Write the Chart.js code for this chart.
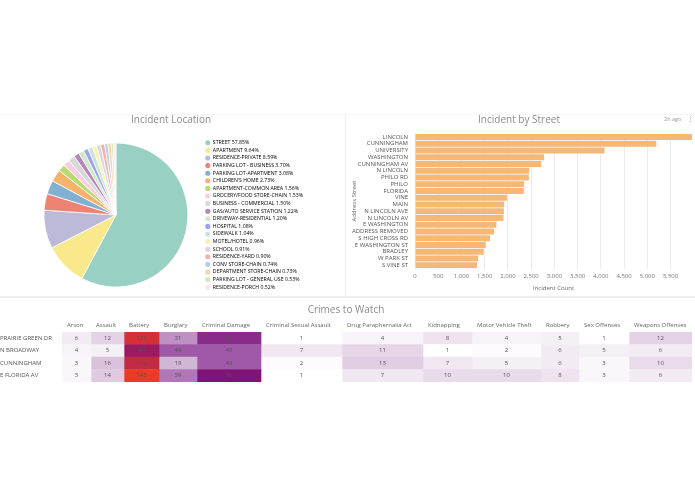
<!DOCTYPE html>
<html>
<head>
<meta charset="utf-8">
<script src="https://cdn.jsdelivr.net/npm/chart.js@4.4.1/dist/chart.umd.min.js"></script>
<style>
  body { margin: 0; background: #fff; font-family: "Open Sans", sans-serif; }
  #page { position: relative; width: 695px; height: 494px; overflow: hidden; }
  canvas { position: absolute; }
  .rule { position: absolute; background: #eeeeee; }
  .meta { position: absolute; font-size: 5.5px; color: #9a9a9a; }
</style>
</head>
<body>
<div id="page">
  <div class="rule" style="left:0;top:114px;width:695px;height:1px;background:#f5f5f5"></div>
  <div class="rule" style="left:345px;top:115px;width:1px;height:181px"></div>
  <div class="rule" style="left:0;top:296px;width:695px;height:2px"></div>
  <canvas id="pie" width="344" height="200" style="left:0;top:100px"></canvas>
  <canvas id="bars" width="349" height="196" style="left:346px;top:100px"></canvas>
  <span class="meta" style="left:664px;top:115px">2h ago</span>
  <span class="meta" style="left:687px;top:114px;font-size:7px">&#8942;</span>
  <canvas id="table" width="695" height="100" style="left:0;top:298px"></canvas>
</div>
<script>
// incident location shares (%)
const locationLabels = [
  'STREET', 'APARTMENT', 'RESIDENCE-PRIVATE', 'PARKING LOT - BUSINESS',
  'PARKING LOT-APARTMENT', "CHILDREN'S HOME", 'APARTMENT-COMMON AREA',
  'GROCERY/FOOD STORE-CHAIN', 'BUSINESS - COMMERCIAL', 'GAS/AUTO SERVICE STATION',
  'DRIVEWAY-RESIDENTIAL', 'HOSPITAL', 'SIDEWALK', 'MOTEL/HOTEL', 'SCHOOL',
  'RESIDENCE-YARD', 'CONV STORE-CHAIN', 'DEPARTMENT STORE-CHAIN',
  'PARKING LOT - GENERAL USE', 'RESIDENCE-PORCH'
];
const locationShares = [57.85, 9.64, 8.59, 3.70, 3.08, 2.73, 1.56, 1.53, 1.50, 1.22,
  1.20, 1.08, 1.04, 0.96, 0.91, 0.90, 0.74, 0.73, 0.53, 0.52];
const locationColors = ['#98d1c4', '#f9e98b', '#bdb9d9', '#ee8373', '#82b0d2', '#f4b26c',
  '#b6db70', '#f8cee2', '#d8d8d8', '#b684ba', '#cde9c6', '#9fa3ef', '#c6e4dd', '#fbf2ae',
  '#d7d5eb', '#f3b3a8', '#b4d0e7', '#f8d3a9', '#d6eab3', '#f9e3ef'];

// incidents by street
const streetNames = ['LINCOLN', 'CUNNINGHAM', 'UNIVERSITY', 'WASHINGTON', 'CUNNINGHAM AV',
  'N LINCOLN', 'PHILO RD', 'PHILO', 'FLORIDA', 'VINE', 'MAIN', 'N LINCOLN AVE',
  'N LINCOLN AV', 'E WASHINGTON', 'ADDRESS REMOVED', 'S HIGH CROSS RD',
  'E WASHINGTON ST', 'BRADLEY', 'W PARK ST', 'S VINE ST'];
const streetCounts = [5962, 5194, 4080, 2780, 2716, 2457, 2450, 2349, 2342, 1983,
  1918, 1912, 1904, 1753, 1703, 1616, 1523, 1480, 1358, 1336];

// crimes to watch
const crimeTypes = ['Arson', 'Assault', 'Battery', 'Burglary', 'Criminal Damage',
  'Criminal Sexual Assault', 'Drug Paraphernalia Act', 'Kidnapping',
  'Motor Vehicle Theft', 'Robbery', 'Sex Offenses', 'Weapons Offenses'];
const watchStreets = ['PRAIRIE GREEN DR', 'N BROADWAY', 'CUNNINGHAM', 'E FLORIDA AV'];
const prairieGreen = [6, 12, 127, 31, 66, 1, 4, 8, 4, 5, 1, 12];
const broadway = [4, 5, 90, 49, 49, 7, 11, 1, 2, 6, 5, 6];
const cunningham = [3, 16, 116, 19, 49, 2, 13, 7, 5, 6, 3, 10];
const floridaAv = [3, 14, 143, 39, 76, 1, 7, 10, 10, 8, 3, 6];
const watchRows = [prairieGreen, broadway, cunningham, floridaAv];

// table column widths (layout only)
const colWidths = [29, 33, 35, 38, 64, 81, 81, 49, 69, 38, 50, 63];

Chart.defaults.font.family = '"Open Sans", sans-serif';
Chart.defaults.animation = false;

const titleFont = { size: 10, weight: 'normal' };

new Chart(document.getElementById('pie'), {
  type: 'pie',
  data: {
    labels: locationLabels,
    datasets: [{
      data: locationShares,
      backgroundColor: locationColors,
      borderColor: '#ffffff',
      borderWidth: 0.8,
      radius: 72,
    }],
  },
  options: {
    responsive: false,
    layout: { padding: { left: 29, right: 31 } },
    plugins: {
      title: {
        display: true, text: 'Incident Location', color: '#8c8c8c',
        font: titleFont, padding: { top: 14, bottom: 4 },
      },
      legend: {
        position: 'right',
        fullSize: false,
        labels: {
          usePointStyle: true, boxWidth: 5, boxHeight: 3.6, padding: 2.4,
          font: { size: 5.2 }, color: '#555',
          generateLabels: () => locationLabels.map((name, i) => ({
            text: name + ' ' + locationShares[i].toFixed(2) + '%',
            fillStyle: locationColors[i],
            strokeStyle: locationColors[i],
            lineWidth: 0,
            pointStyle: 'circle',
            hidden: false,
            index: i,
          })),
        },
      },
      tooltip: { enabled: false },
    },
  },
});

new Chart(document.getElementById('bars'), {
  type: 'bar',
  data: {
    labels: streetNames,
    datasets: [{
      data: streetCounts,
      backgroundColor: '#f6b877',
      barPercentage: 0.87,
      categoryPercentage: 1,
    }],
  },
  options: {
    indexAxis: 'y',
    responsive: false,
    layout: { padding: { right: 3, bottom: 3 } },
    scales: {
      x: {
        min: 0,
        bounds: 'data',
        afterBuildTicks: s => { s.ticks = s.ticks.filter(t => t.value % 500 === 0); },
        ticks: { stepSize: 500, font: { size: 6 }, color: '#777', padding: 4 },
        grid: { color: '#ebebeb', drawTicks: false },
        border: { display: false },
        title: { display: true, text: 'Incident Count', font: { size: 6 }, color: '#666', padding: { top: 1, bottom: 1 } },
      },
      y: {
        afterFit: s => { s.width = 69; },
        ticks: { font: { size: 6 }, color: '#555', autoSkip: false, padding: 7 },
        grid: { display: false, drawTicks: false },
        border: { display: false },
        title: { display: true, text: 'Address Street', font: { size: 6 }, color: '#666', padding: { top: 5, bottom: 2 } },
      },
    },
    plugins: {
      legend: { display: false },
      tooltip: { enabled: false },
      title: {
        display: true, text: 'Incident by Street', color: '#8c8c8c',
        font: titleFont, padding: { top: 14, bottom: 7.6 },
      },
    },
  },
});

// white -> purple -> red heat scale for the table cells
const heatStops = [[1, [255, 255, 255]], [20, [208, 178, 211]], [49, [160, 88, 168]],
  [75, [125, 20, 120]], [90, [155, 26, 96]], [143, [236, 59, 36]]];
function heat(v) {
  if (v <= heatStops[0][0]) return 'rgb(255,255,255)';
  for (let k = 1; k < heatStops.length; k++) {
    const [v1, c1] = heatStops[k];
    const [v0, c0] = heatStops[k - 1];
    if (v <= v1) {
      const t = (v - v0) / (v1 - v0);
      const c = c0.map((a, n) => Math.round(a + (c1[n] - a) * t));
      return `rgb(${c.join(',')})`;
    }
  }
  const c = heatStops[heatStops.length - 1][1];
  return `rgb(${c.join(',')})`;
}

const colStarts = colWidths.map((w, j) => colWidths.slice(0, j).reduce((a, b) => a + b, 0));
const tableWidth = colWidths.reduce((a, b) => a + b, 0);

const cellText = {
  id: 'cellText',
  afterDatasetsDraw(chart) {
    const ctx = chart.ctx;
    ctx.save();
    ctx.font = '6px "Open Sans", sans-serif';
    ctx.fillStyle = '#555';
    ctx.textAlign = 'center';
    ctx.textBaseline = 'middle';
    chart.data.datasets.forEach((ds, j) => {
      chart.getDatasetMeta(j).data.forEach((bar, i) => {
        const { x, y, base } = bar.getProps(['x', 'y', 'base'], true);
        ctx.fillText(String(watchRows[i][j]), (x + base) / 2, y);
      });
    });
    ctx.restore();
  },
};

new Chart(document.getElementById('table'), {
  type: 'bar',
  data: {
    labels: watchStreets,
    datasets: crimeTypes.map((name, j) => ({
      label: name,
      data: watchStreets.map(() => colWidths[j]),
      backgroundColor: ctx => heat(watchRows[ctx.dataIndex][j]),
      barPercentage: 1,
      categoryPercentage: 1,
      borderWidth: 0,
    })),
  },
  options: {
    indexAxis: 'y',
    responsive: false,
    layout: { padding: { bottom: 16, right: 3 } },
    scales: {
      x: {
        position: 'top',
        stacked: true,
        min: 0,
        max: tableWidth,
        afterFit: s => { s.height = 16; },
        afterBuildTicks: s => { s.ticks = colStarts.map(v => ({ value: v + 5 })); },
        ticks: {
          autoSkip: false, maxRotation: 0, align: 'start', padding: 3,
          font: { size: 6 }, color: '#666',
          callback: (v, i) => crimeTypes[i],
        },
        grid: { display: false, drawTicks: false },
        border: { display: false },
      },
      y: {
        stacked: true,
        afterFit: s => { s.width = 62; },
        ticks: { crossAlign: 'far', padding: 0, font: { size: 6 }, color: '#555' },
        grid: { display: false, drawTicks: false },
        border: { display: false },
      },
    },
    plugins: {
      legend: { display: false },
      tooltip: { enabled: false },
      title: {
        display: true, text: 'Crimes to Watch', color: '#8c8c8c',
        font: titleFont, padding: { top: 6, bottom: 0 },
      },
    },
  },
  plugins: [cellText],
});
</script>
</body>
</html>
